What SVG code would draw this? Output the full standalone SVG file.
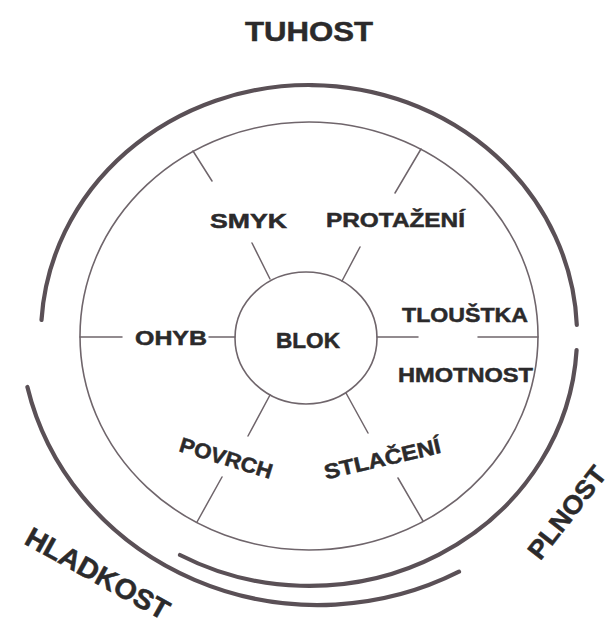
<svg xmlns="http://www.w3.org/2000/svg" width="610" height="628" viewBox="0 0 610 628">
<style>
.t{font-family:"Liberation Sans",Arial,sans-serif;font-weight:bold;fill:#2b2a2b;stroke:#2b2a2b;stroke-width:0.5;}
.thin{fill:none;stroke:#6f656b;stroke-width:1.6;}
.thick{fill:none;stroke:#5a5056;stroke-width:4.2;stroke-linecap:round;}
.sp{stroke:#6f656b;stroke-width:1.5;fill:none;stroke-linecap:round;}
</style>
<rect width="610" height="628" fill="#ffffff"/>
<g id="rings">
<path class="thick" d="M 41.5 320 A 268 250 0 0 1 576.8 325"/>
<path class="thick" d="M 576.6 350 A 268 250 0 0 1 180 555"/>
<path class="thick" d="M 27.4 387 A 298 280 0 0 0 459 571.7"/>
<ellipse class="thin" cx="309" cy="336" rx="229" ry="214"/>
</g>
<g id="connectors">
<line class="sp" x1="80" y1="337" x2="122" y2="337"/>
<line class="sp" x1="209" y1="337" x2="235" y2="337"/>
<line class="sp" x1="377" y1="337" x2="418" y2="337"/>
<line class="sp" x1="478" y1="337" x2="538" y2="337"/>
<line class="sp" x1="252" y1="243" x2="270" y2="279"/>
<line class="sp" x1="360" y1="247" x2="342" y2="281"/>
<line class="sp" x1="270" y1="395" x2="248" y2="436"/>
<line class="sp" x1="346" y1="393" x2="368" y2="433"/>
<line class="sp" x1="193" y1="151" x2="212" y2="181"/>
<line class="sp" x1="421" y1="149" x2="395" y2="193"/>
<line class="sp" x1="222" y1="477" x2="197" y2="522"/>
<line class="sp" x1="398" y1="478" x2="423" y2="521"/>
</g>
<g id="node-blok">
<ellipse class="thin" cx="306" cy="338" rx="71" ry="66"/>
<text class="t" x="276" y="348" font-size="22" textLength="64" lengthAdjust="spacingAndGlyphs">BLOK</text>
</g>
<g id="node-tuhost"><text class="t" x="245" y="41" font-size="28" textLength="128" lengthAdjust="spacingAndGlyphs">TUHOST</text></g>
<g id="node-smyk"><text class="t" x="210" y="228" font-size="21" textLength="77" lengthAdjust="spacingAndGlyphs">SMYK</text></g>
<g id="node-protazeni"><text class="t" x="326" y="227" font-size="21" textLength="139" lengthAdjust="spacingAndGlyphs">PROTAŽENÍ</text></g>
<g id="node-ohyb"><text class="t" x="135" y="345" font-size="21" textLength="72" lengthAdjust="spacingAndGlyphs">OHYB</text></g>
<g id="node-tloustka"><text class="t" x="402" y="322" font-size="21" textLength="126" lengthAdjust="spacingAndGlyphs">TLOUŠTKA</text></g>
<g id="node-hmotnost"><text class="t" x="398" y="382" font-size="21" textLength="135" lengthAdjust="spacingAndGlyphs">HMOTNOST</text></g>
<g id="node-povrch"><text class="t" transform="translate(224,465) rotate(17)" x="0" y="0" text-anchor="middle" font-size="21" textLength="96" lengthAdjust="spacingAndGlyphs">POVRCH</text></g>
<g id="node-stlaceni"><text class="t" transform="translate(384,466) rotate(-13)" x="0" y="0" text-anchor="middle" font-size="21" textLength="119" lengthAdjust="spacingAndGlyphs">STLAČENÍ</text></g>
<g id="node-hladkost"><text class="t" transform="translate(93,582) rotate(29)" x="0" y="0" text-anchor="middle" font-size="28" textLength="160" lengthAdjust="spacingAndGlyphs">HLADKOST</text></g>
<g id="node-plnost"><text class="t" transform="translate(574,518) rotate(-52)" x="0" y="0" text-anchor="middle" font-size="26" textLength="110" lengthAdjust="spacingAndGlyphs">PLNOST</text></g>
</svg>
